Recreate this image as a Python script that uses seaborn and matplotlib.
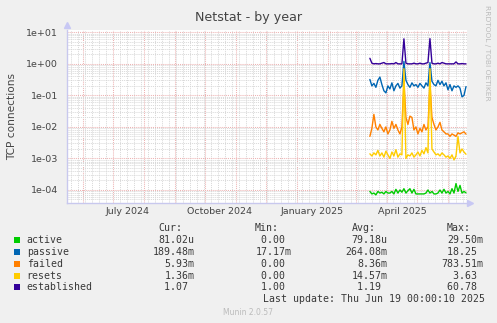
import matplotlib
matplotlib.use('Agg')
import matplotlib.pyplot as plt
import matplotlib.dates as mdates
from matplotlib.ticker import LogLocator, NullFormatter, FuncFormatter
from matplotlib.patches import Rectangle
import seaborn as sns
import numpy as np
import pandas as pd

W, H = 497, 323

# ---------------- data ----------------
names = ['active', 'passive', 'failed', 'resets', 'established']
colors = ['#00CC00', '#0066B3', '#FF8000', '#FFCC00', '#330099']

start_date = '2025-03-15'
n_points = 49
step = '2D'

active = [9e-5, 7.5e-5, 8e-5, 7e-5, 9e-5, 8e-5, 8.5e-5, 7.5e-5, 9e-5, 8e-5,
          8e-5, 9e-5, 7.5e-5, 1.05e-4, 8e-5, 1.0e-4, 8.5e-5, 1.1e-4, 8e-5, 9.5e-5,
          1.1e-4, 8e-5, 1.05e-4, 7.5e-5, 7.5e-5, 7.5e-5, 7.5e-5, 7.5e-5, 8e-5, 1.0e-4,
          8e-5, 9e-5, 7.5e-5, 7.5e-5, 8e-5, 1.0e-4, 8e-5, 1.05e-4, 8e-5, 9e-5,
          7.5e-5, 1.1e-4, 8e-5, 1.6e-4, 9e-5, 1.4e-4, 8e-5, 9e-5, 8.1e-5]
passive = [0.32, 0.2, 0.24, 0.18, 0.3, 0.38, 0.22, 0.14, 0.12, 0.2,
           0.16, 0.25, 0.14, 0.2, 0.24, 0.17, 0.2, 1.2, 0.3, 0.22,
           0.18, 0.25, 0.2, 0.22, 0.18, 0.24, 0.2, 0.17, 0.25, 0.2,
           1.1, 0.28, 0.22, 0.2, 0.3, 0.22, 0.28, 0.2, 0.25, 0.15,
           0.22, 0.14, 0.2, 0.18, 0.2, 0.17, 0.09, 0.1, 0.19]
failed = [0.005, 0.009, 0.025, 0.01, 0.008, 0.012, 0.009, 0.007, 0.01, 0.006,
          0.008, 0.015, 0.009, 0.012, 0.008, 0.006, 0.01, 0.3, 0.02, 0.012,
          0.022, 0.02, 0.008, 0.01, 0.006, 0.009, 0.007, 0.012, 0.008, 0.01,
          0.25, 0.02, 0.012, 0.008, 0.01, 0.014, 0.008, 0.007, 0.006, 0.006,
          0.005, 0.006, 0.0055, 0.005, 0.0065, 0.006, 0.0065, 0.007, 0.0059]
resets = [1.4e-3, 1.2e-3, 1.5e-3, 1.3e-3, 1.8e-3, 1.2e-3, 1.5e-3, 1.1e-3, 1.7e-3, 1.3e-3,
          1.0e-3, 1.6e-3, 1.2e-3, 1.9e-3, 1.1e-3, 1.4e-3, 1.3e-3, 0.7, 1.0e-3, 1.3e-3,
          1.2e-3, 1.5e-3, 1.1e-3, 1.3e-3, 1.6e-3, 1.2e-3, 1.8e-3, 1.4e-3, 2.2e-3, 1.5e-3,
          0.7, 2.0e-3, 1.6e-3, 1.3e-3, 1.4e-3, 1.2e-3, 1.5e-3, 1.3e-3, 1.1e-3, 1.2e-3,
          1.0e-3, 1.3e-3, 0.9e-3, 1.2e-3, 5.0e-3, 1.5e-3, 2.0e-3, 1.6e-3, 1.36e-3]
established = [1.5, 1.05, 1.0, 1.02, 1.0, 1.0, 1.05, 1.1, 1.0, 1.0,
               1.0, 1.02, 1.0, 1.1, 1.0, 1.0, 1.0, 6.2, 1.05, 1.0,
               1.0, 1.0, 1.05, 1.0, 1.0, 1.05, 1.0, 1.0, 1.05, 1.1,
               6.3, 1.05, 1.0, 1.0, 1.05, 1.0, 1.1, 1.05, 1.0, 1.0,
               1.0, 1.0, 1.0, 1.15, 1.0, 1.0, 1.02, 1.0, 1.0]

cur = ['81.02u', '189.48m', '5.93m', '1.36m', '1.07']
mins = ['0.00', '17.17m', '0.00', '0.00', '1.00']
avgs = ['79.18u', '264.08m', '8.36m', '14.57m', '1.19']
maxs = ['29.50m', '18.25', '783.51m', '3.63', '60.78']

x_labels = ['July 2024', 'October 2024', 'January 2025', 'April 2025']
x_label_dates = ['2024-07-16', '2024-10-16', '2025-01-16', '2025-04-16']
x_start, x_end = '2024-05-16', '2025-06-20'

title = 'Netstat - by year'
ylabel = 'TCP connections'
last_update = 'Last update: Thu Jun 19 00:00:10 2025'

# ---------------- build frame ----------------
dates = pd.date_range(start_date, periods=n_points, freq=step)
series = dict(zip(names, [active, passive, failed, resets, established]))
df = pd.concat([pd.DataFrame({'date': dates, 'value': v, 'series': k})
                for k, v in series.items()], ignore_index=True)

# ---------------- figure ----------------
sns.set_theme(style='white')
plt.rcParams['font.family'] = ['DejaVu Sans']

fig = plt.figure(figsize=(W / 100, H / 100), dpi=100)
fig.patch.set_facecolor('#F0F0F0')

def fx(x):
    return x / W

def fy(y):
    return 1 - y / H

top_px, bot_px, left_px, right_px = 30.0, 203.3, 66.5, 467.0
ax = fig.add_axes([fx(left_px), fy(bot_px), (right_px - left_px) / W, (bot_px - top_px) / H])
ax.set_facecolor('white')

sns.lineplot(data=df, x='date', y='value', hue='series', hue_order=names,
             palette=colors, ax=ax, legend=False, linewidth=1.0, estimator=None)

ax.set_yscale('log')
ax.set_ylim(10 ** -4.422, 10 ** 1.073)
ax.set_xlim(pd.Timestamp(x_start), pd.Timestamp(x_end))

ax.yaxis.set_major_locator(LogLocator(base=10, numticks=20))
ax.yaxis.set_minor_locator(LogLocator(base=10, subs=np.arange(2, 10), numticks=20))
ax.yaxis.set_major_formatter(FuncFormatter(lambda v, p: f'{v:.0e}'))
ax.yaxis.set_minor_formatter(NullFormatter())

ax.xaxis.set_major_locator(mdates.MonthLocator())
ax.xaxis.set_minor_locator(mdates.WeekdayLocator(byweekday=mdates.MO))
ax.xaxis.set_major_formatter(NullFormatter())
ax.xaxis.set_minor_formatter(NullFormatter())

ax.grid(which='minor', color='#D8D8D8', linestyle=(0, (1, 1)), linewidth=0.7)
ax.grid(which='major', color='#EDB2B2', linestyle=(0, (1, 1)), linewidth=0.75)
ax.set_axisbelow(True)

ax.tick_params(which='both', length=0)
ax.tick_params(axis='y', which='major', labelsize=6.8, labelcolor='#444444', pad=6)
ax.set_xlabel('')
ax.set_ylabel('')

for s in ['top', 'right']:
    ax.spines[s].set_visible(False)
for s in ['left', 'bottom']:
    ax.spines[s].set_color('#C8C8EE')
    ax.spines[s].set_linewidth(1.0)

ax.plot([0], [1.03], marker='^', color='#C8C8F4', ms=4, transform=ax.transAxes, clip_on=False)
ax.plot([1.008], [0], marker='>', color='#C8C8F4', ms=4, transform=ax.transAxes, clip_on=False)

ylab_y = -(211.7 - bot_px) / (bot_px - top_px)
for lab, d in zip(x_labels, x_label_dates):
    ax.text(pd.Timestamp(d), ylab_y, lab, transform=ax.get_xaxis_transform(),
            ha='center', va='center', fontsize=6.8, color='#444444')

fig.text(fx(248.5), fy(17), title, ha='center', va='center', fontsize=9.1, color='#444444')
fig.text(fx(12), fy(116.5), ylabel, rotation=90, ha='center', va='center',
         fontsize=7.6, color='#444444')
fig.text(fx(487.5), fy(5), 'RRDTOOL / TOBI OETIKER', rotation=270, ha='center', va='top',
         fontsize=5.4, color='#BBBBBB')
fig.text(fx(248), fy(312.3), 'Munin 2.0.57', ha='center', va='center', fontsize=5.5, color='#BBBBBB')

# ---------------- legend ----------------
mono = dict(family='DejaVu Sans Mono', fontsize=7.1, color='#383838', va='center')
cw = 7.1 * 100 / 72 * 0.602

def pad(s):
    return s if not s[-1].isdigit() else s + ' '

fig.text(fx(158), fy(228.3), 'Cur:', ha='left', **mono)
fig.text(fx(255), fy(228.3), 'Min:', ha='left', **mono)
fig.text(fx(351.7), fy(228.3), 'Avg:', ha='left', **mono)
fig.text(fx(446.7), fy(228.3), 'Max:', ha='left', **mono)

rows_y = [239.7, 251.7, 263.7, 275.7, 287.3]
col_right = [194.0, 291.0, 387.0, 482.7]
for i, name in enumerate(names):
    y = rows_y[i]
    fig.patches.append(Rectangle((fx(14), fy(y + 3)), 6 / W, 6 / H, transform=fig.transFigure,
                                 facecolor=colors[i], edgecolor='none'))
    fig.text(fx(26.7), fy(y), name, ha='left', **mono)
    for col, R in zip([cur, mins, avgs, maxs], col_right):
        s = pad(col[i])
        fig.text(fx(R - len(s) * cw), fy(y), s, ha='left', **mono)

fig.text(fx(482.7 - len(last_update) * cw), fy(299.3), last_update, ha='left', **mono)

fig.savefig('out.png', dpi=100, facecolor=fig.get_facecolor())
